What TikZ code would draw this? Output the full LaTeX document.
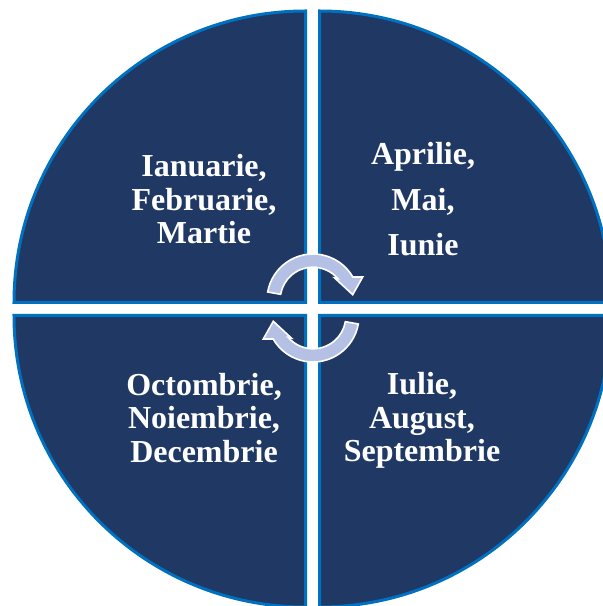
\documentclass[tikz,border=0pt]{standalone}
\usepackage{fontspec}
\setmainfont{Liberation Serif}
\definecolor{navy}{RGB}{32,56,100}
\definecolor{rimblue}{RGB}{0,112,192}
\definecolor{lilac}{RGB}{180,193,228}

\begin{document}
\begin{tikzpicture}[x=1pt,y=1pt,
		sector/.style={fill=navy,draw=rimblue,line width=3pt},
		cyclearrow/.style={fill=lilac,draw=white,line width=1.6pt,line join=miter},
		months/.style={text=white,font=\fontsize{32}{33.5}\selectfont\bfseries,align=center,inner sep=0pt}]
				\useasboundingbox (0,0) rectangle (603,606);
				\clip (0,0) rectangle (603,606);
				\draw[sector] (305.5,303.5) -- ++(-291.5,0) arc[start angle=180,end angle=90,radius=291.5] -- cycle;
				\draw[sector] (319.5,303.5) -- ++(0,291.5) arc[start angle=90,end angle=0,radius=291.5] -- cycle;
				\draw[sector] (319.5,290.5) -- ++(291.5,0) arc[start angle=0,end angle=-90,radius=291.5] -- cycle;
				\draw[sector] (305.5,290.5) -- ++(0,-291.5) arc[start angle=270,end angle=180,radius=291.5] -- cycle;
				\foreach \r in {0,180}
					\draw[cyclearrow,rotate around={\r:(313,298)}] (267.7,314) arc[start angle=170,end angle=30,radius=46]
						-- (362.7,329) -- (352.7,311.3) -- (334.7,328) -- (337.7,327.5) arc[start angle=41,end angle=170,radius=32.8] -- cycle;
				\node[months] (q1) at (204,406.5) {Ianuarie,\\Februarie,\\Martie};
				\node[months,font=\fontsize{32}{45.5}\selectfont\bfseries] (q2) at (423,406.5) {Aprilie,\\Mai,\\Iunie};
				\node[months] (q3) at (204,188) {Octombrie,\\Noiembrie,\\Decembrie};
				\node[months] (q4) at (422,185.5) {Iulie,\\August,\\Septembrie};
			\end{tikzpicture}
\end{document}
